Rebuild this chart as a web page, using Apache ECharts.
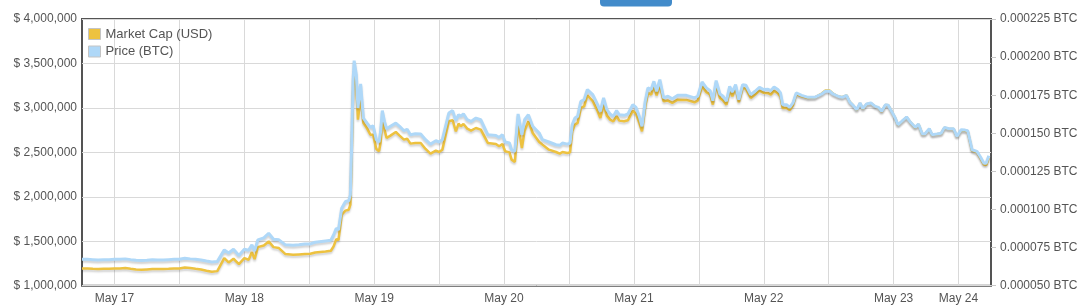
<!DOCTYPE html>
<html>
<head>
<meta charset="utf-8">
<script src="https://cdn.jsdelivr.net/npm/echarts@6/dist/echarts.min.js"></script>
<style>
html,body{margin:0;padding:0;background:#fff;}
#chart{width:1092px;height:308px;}
</style>
</head>
<body>
<div id="chart"></div>
<script>
// Time of each observation, in hours after May 17 00:00
var hours = [-6,-5,-4,-3,-2,-1,0,1,2,3,4,5,6,7,8,9,10,11,12,13,14,15,16,17,18,19,20.3,21.1,22,23,24,24.8,25.4,25.9,26.5,27.6,28.5,29.4,30.4,31.6,33,34.1,35.2,
36.2,37.1,39.0,40.0,40.5,41.0,41.4,42.0,42.7,43.3,43.6,43.8,44.1,44.3,44.7,45.0,45.5,46.0,46.7,47.3,47.8,48.4,48.9,49.2,49.5,49.9,50.3,51.0,52.0,52.7,53.5,54.1,54.7,55.6,56.6,57.5,58.4,59.4,60.0,60.6,61.2,61.8,62.5,63.1,63.6,64.0,64.5,65.2,65.9,66.8,67.7,69.0,70.5,71.1,71.7,72.2,73.0,73.4,74.0,74.6,75.3,75.8,76.5,77.3,78.5,
79.1,80.3,81.6,82.3,82.8,83.7,84.2,84.6,85.1,85.6,86.2,86.8,87.4,88.4,89.3,89.8,90.4,91.0,91.6,92.2,92.8,93.3,94.2,94.9,95.8,96.4,97.0,97.5,98.1,98.6,99.2,99.7,100.2,100.8,101.5,102.3,103.1,104.1,105.7,107.2,107.8,108.6,109.4,110.1,110.6,111.2,111.9,112.5,113.1,113.7,114.2,114.8,115.4,116.1,116.7,117.6,118.4,119.2,119.5,120.0,120.8,
121.3,121.9,122.6,123.1,123.5,124.2,124.8,125.4,126.0,127.0,128.2,129.4,130.7,131.4,132.2,132.8,133.7,134.5,135.3,135.9,136.5,137.2,137.8,138.3,139.0,139.8,140.6,141.2,141.8,142.5,143.0,143.8,144.3,144.8,145.5,146.4,147.0,148.0,148.6,149.3,149.8,150.6,151.1,152.0,152.8,153.4,154.2,155.1,155.7,156.5,157.2,157.7,158.5,159.4,160.0,160.7,161.1,161.6];

var marketCap = [1194000,1194000,1190000,1187000,1190000,1190000,1194000,1194000,1198000,1190000,1183000,1179000,1183000,1187000,1187000,1187000,1190000,1194000,1194000,1205000,1198000,1190000,1183000,1168000,1157000,1164000,1310000,1262000,1303000,1243000,1310000,1292000,1378000,1299000,1434000,1453000,1498000,1434000,1423000,1356000,1348000,1352000,1356000,
1359000,1374000,1386000,1393000,1442000,1524000,1513000,1798000,1844000,1855000,1911000,2362000,3169000,3413000,3244000,2868000,3131000,2831000,2767000,2699000,2699000,2538000,2512000,2617000,2868000,2756000,2662000,2688000,2729000,2688000,2643000,2654000,2598000,2606000,2606000,2538000,2485000,2519000,2504000,2530000,2692000,2849000,2861000,2737000,2823000,2793000,2819000,2767000,2744000,2774000,2756000,2606000,2594000,2568000,2594000,2512000,2500000,2418000,2392000,2819000,2549000,2744000,2849000,2718000,2616000,
2587000,2530000,2504000,2485000,2504000,2493000,2500000,2737000,2812000,2831000,3000000,3018000,3142000,3075000,2962000,2887000,3037000,2913000,2868000,2849000,2906000,2857000,2849000,2861000,2970000,2932000,2831000,2737000,3018000,3169000,3150000,3244000,3142000,3262000,3075000,3082000,3056000,3093000,3090000,3063000,3082000,3244000,3176000,3150000,3037000,3262000,3112000,3082000,3037000,3195000,3131000,3225000,3063000,3225000,3214000,3112000,3150000,3195000,3217000,3169000,3165000,
3150000,3191000,3165000,3127000,3000000,3000000,2977000,3030000,3154000,3131000,3112000,3116000,3161000,3195000,3195000,3161000,3131000,3120000,3142000,3067000,3030000,2977000,3052000,2988000,3041000,3052000,3015000,3003000,2958000,3033000,3030000,2943000,2883000,2808000,2846000,2895000,2846000,2778000,2816000,2703000,2707000,2763000,2696000,2703000,2711000,2778000,2763000,2763000,2677000,2748000,2744000,2737000,2519000,2500000,2440000,2362000,2358000,2437000];

var priceBTC = [0.0000673,0.0000673,0.0000671,0.0000669,0.0000671,0.0000671,0.0000673,0.0000673,0.0000676,0.0000671,0.0000667,0.0000665,0.0000667,0.0000671,0.0000669,0.0000669,0.0000671,0.0000673,0.0000673,0.0000680,0.0000676,0.0000673,0.0000669,0.0000662,0.0000656,0.0000658,
0.0000735,0.0000715,0.0000739,0.0000698,0.0000739,0.0000733,0.0000768,0.0000728,0.0000801,0.0000814,0.0000844,0.0000805,0.0000801,0.0000768,0.0000765,0.0000768,0.0000774,
0.0000774,0.0000785,0.0000794,0.0000798,0.0000833,0.0000877,0.0000866,0.0001009,0.0001052,0.0001057,0.0001096,0.0001359,0.0001841,0.0001977,0.0001885,0.0001666,0.0001824,0.0001600,0.0001567,0.0001539,0.0001550,0.0001458,0.0001443,0.0001513,0.0001649,0.0001578,0.0001530,0.0001546,0.0001567,0.0001546,0.0001517,0.0001526,0.0001491,0.0001497,0.0001495,0.0001458,0.0001429,0.0001451,0.0001443,0.0001458,0.0001546,0.0001633,0.0001649,0.0001583,0.0001622,0.0001611,0.0001627,0.0001589,0.0001578,0.0001600,0.0001589,0.0001491,0.0001486,0.0001473,0.0001491,0.0001443,0.0001436,0.0001392,0.0001381,0.0001627,0.0001491,0.0001589,0.0001622,0.0001546,0.0001502,
0.0001458,0.0001443,0.0001425,0.0001421,0.0001436,0.0001429,0.0001436,0.0001556,0.0001600,0.0001611,0.0001710,0.0001721,0.0001787,0.0001754,0.0001688,0.0001644,0.0001732,0.0001655,0.0001627,0.0001611,0.0001649,0.0001622,0.0001618,0.0001627,0.0001688,0.0001670,0.0001611,0.0001546,0.0001710,0.0001798,0.0001787,0.0001841,0.0001776,0.0001852,0.0001732,0.0001743,0.0001727,0.0001749,0.0001749,0.0001732,0.0001743,0.0001837,0.0001798,0.0001780,0.0001714,0.0001846,0.0001758,0.0001743,0.0001710,0.0001808,0.0001771,0.0001819,0.0001721,0.0001819,0.0001815,0.0001754,0.0001776,0.0001802,0.0001815,0.0001787,0.0001789,
0.0001780,0.0001804,0.0001787,0.0001765,0.0001688,0.0001688,0.0001670,0.0001699,0.0001765,0.0001749,0.0001736,0.0001736,0.0001758,0.0001776,0.0001776,0.0001758,0.0001743,0.0001736,0.0001749,0.0001705,0.0001684,0.0001655,0.0001699,0.0001662,0.0001692,0.0001699,0.0001677,0.0001670,0.0001644,0.0001688,0.0001684,0.0001633,0.0001600,0.0001556,0.0001578,0.0001607,0.0001578,0.0001539,0.0001561,0.0001495,0.0001497,0.0001530,0.0001491,0.0001495,0.0001500,0.0001539,0.0001530,0.0001530,0.0001480,0.0001524,0.0001521,0.0001517,0.0001392,0.0001381,0.0001348,0.0001304,0.0001304,0.0001353];

// X axis: labelled ticks (hours after May 17 00:00) and grid line spacing
var xTickHours = [0, 24, 48, 72, 96, 120, 144, 156];
var xTickLabels = ['May 17', 'May 18', 'May 19', 'May 20', 'May 21', 'May 22', 'May 23', 'May 24'];
var xGridStep = 12;
var xMin = -6, xMax = 162;

var seriesNames = ['Market Cap (USD)', 'Price (BTC)'];

var FONT = "'Liberation Sans', Arial, sans-serif";
var TXT = '#545454';
var GRIDC = '#d9d9d9';

var axisHours = [];
for (var h = xMin; h <= xMax; h++) axisHours.push(String(h));

function pairs(xs, ys) {
  var out = [];
  for (var i = 0; i < xs.length; i++) out.push([xs[i], ys[i]]);
  return out;
}
function money(v) {
  return '$ ' + String(Math.round(v)).replace(/\B(?=(\d{3})+(?!\d))/g, ',');
}

var chart = echarts.init(document.getElementById('chart'), null, {renderer: 'canvas'});
chart.setOption({
  animation: false,
  textStyle: {fontFamily: FONT},
  grid: {left: 82, top: 19, right: 101, bottom: 22.3, show: true, borderColor: '#545454', borderWidth: 2, backgroundColor: 'transparent'},
  graphic: [{
    type: 'rect', z: 100,
    shape: {x: 600, y: -6, width: 72, height: 12.5, r: 4},
    style: {fill: '#428bca'}
  }],
  legend: {
    orient: 'vertical', left: 88, top: 27.5, padding: 0, itemWidth: 12, itemHeight: 11, itemGap: 4.5,
    icon: 'rect',
    data: seriesNames,
    textStyle: {fontSize: 13, color: TXT, fontFamily: FONT},
    itemStyle: {borderColor: '#c4c4c4', borderWidth: 1}
  },
  xAxis: [{
    type: 'value', min: xMin, max: xMax, show: false, position: 'top'
  }, {
    type: 'category', data: axisHours, boundaryGap: false, position: 'bottom',
    axisLine: {show: false}, axisTick: {show: false},
    axisLabel: {
      color: TXT, fontSize: 12, fontFamily: FONT, margin: 7,
      interval: function (idx, val) { return xTickHours.indexOf(Number(val)) >= 0; },
      formatter: function (val) { var k = xTickHours.indexOf(Number(val)); return k >= 0 ? xTickLabels[k] : ''; }
    },
    splitLine: {
      show: true, lineStyle: {color: GRIDC, width: 1},
      interval: function (idx, val) { var n = Number(val); return n >= 0 && n <= 156 && n % xGridStep === 0; }
    }
  }],
  yAxis: [{
    type: 'value', min: 1000000, max: 4000000, interval: 500000, position: 'left',
    axisLine: {show: false}, axisTick: {show: false},
    axisLabel: {color: TXT, fontSize: 12, fontFamily: FONT, margin: 5, formatter: money},
    splitLine: {show: true, lineStyle: {color: GRIDC, width: 1}}
  }, {
    type: 'value', min: 0.00005, max: 0.000225, interval: 0.000025, position: 'right',
    axisLine: {show: false},
    axisTick: {show: true, length: 5, lineStyle: {color: '#c8c8c8'}},
    axisLabel: {color: TXT, fontSize: 12, fontFamily: FONT, margin: 9,
      formatter: function (v) { return v.toFixed(6) + ' BTC'; }},
    splitLine: {show: false}
  }],
  series: [{
    name: seriesNames[0], type: 'line', xAxisIndex: 0, yAxisIndex: 0,
    data: pairs(hours, marketCap), symbol: 'none', z: 2,
    itemStyle: {color: '#edc240'},
    lineStyle: {color: '#edc240', width: 2.5, shadowColor: 'rgba(0,0,0,0.18)', shadowBlur: 2, shadowOffsetY: 2}
  }, {
    name: seriesNames[1], type: 'line', xAxisIndex: 0, yAxisIndex: 1,
    data: pairs(hours, priceBTC), symbol: 'none', z: 3,
    itemStyle: {color: '#afd8f8'},
    lineStyle: {color: '#afd8f8', width: 3, shadowColor: 'rgba(0,0,0,0.18)', shadowBlur: 2, shadowOffsetY: 2}
  }]
});
</script>
</body>
</html>
